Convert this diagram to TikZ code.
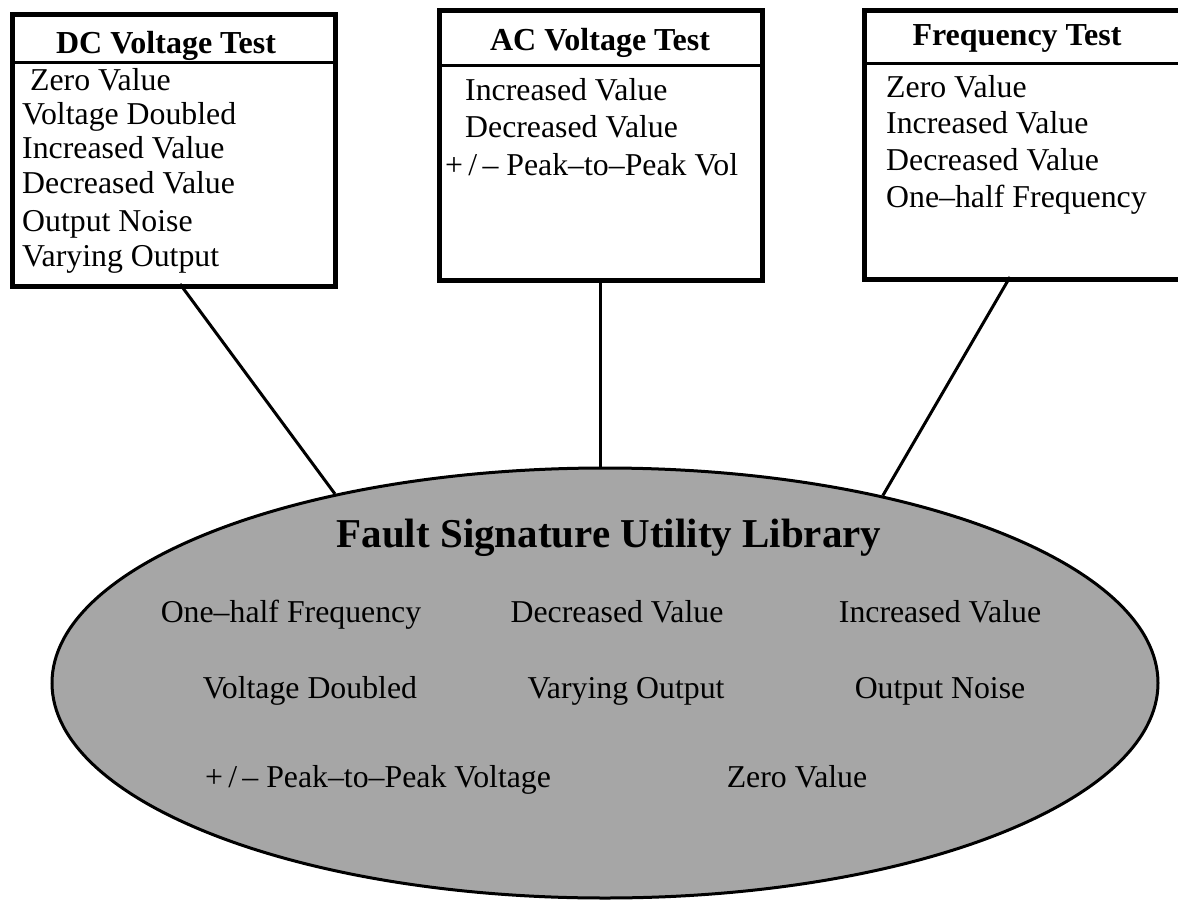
\documentclass[tikz,border=0pt]{standalone}
\usepackage{fontspec}
\setmainfont{Liberation Serif}
\usetikzlibrary{shapes.geometric,calc}
\begin{document}
\begin{tikzpicture}[x=1pt,y=-1pt,
  tbox/.style={draw, line width=4.5pt, rectangle, anchor=north west, inner sep=0pt, fill=white},
  sepline/.style={line width=3pt},
  conn/.style={line width=3pt},
  itemtxt/.style={anchor=base west, inner sep=0pt, font=\fontsize{31.8}{36}\selectfont},
  headtxt/.style={anchor=base, inner sep=0pt, font=\fontsize{32}{36}\selectfont\bfseries},
  elltxt/.style={anchor=base, inner sep=0pt, font=\fontsize{31.8}{36}\selectfont},
  titletxt/.style={anchor=base, inner sep=0pt, font=\fontsize{41}{46}\selectfont\bfseries},
  lib/.style={ellipse, draw, line width=3pt, fill=black!35, minimum width=1106pt, minimum height=430pt, inner sep=0pt}]
\useasboundingbox (0,0) rectangle (1178,902);
\clip (0,0) rectangle (1178,902);
\fill[white] (0,0) rectangle (1178,902);

% boxes
\node[tbox, minimum width=323pt, minimum height=272pt] (dc) at (10,12) {};
\draw[sepline] (dc.west |- 0,62) -- (dc.east |- 0,62);
\node[tbox, minimum width=323pt, minimum height=270pt] (ac) at (437,8) {};
\draw[sepline] (ac.west |- 0,65) -- (ac.east |- 0,65);
\node[tbox, minimum width=330pt, minimum height=269pt] (fq) at (862,8) {};
\draw[sepline] (fq.west |- 0,63) -- (1200,63);

% box texts
\node[headtxt] (dch) at (166,53) {DC Voltage Test};
\node[itemtxt] (dc1) at (30,90) {Zero Value};
\node[itemtxt] (dc2) at (22,124) {Voltage Doubled};
\node[itemtxt] (dc3) at (22,158) {Increased Value};
\node[itemtxt] (dc4) at (22,193) {Decreased Value};
\node[itemtxt] (dc5) at (22,231) {Output Noise};
\node[itemtxt] (dc6) at (22,266) {Varying Output};

\node[headtxt] (ach) at (600,50) {AC Voltage Test};
\node[itemtxt] (ac1) at (465,100) {Increased Value};
\node[itemtxt] (ac2) at (465,137) {Decreased Value};
\node[itemtxt] (ac3) at (445,175) {+\,/\,– Peak–to–Peak Vol};

\node[headtxt] (fqh) at (1017,45) {Frequency Test};
\node[itemtxt] (fq1) at (886,97) {Zero Value};
\node[itemtxt] (fq2) at (886,133) {Increased Value};
\node[itemtxt] (fq3) at (886,170) {Decreased Value};
\node[itemtxt] (fq4) at (886,207) {One–half Frequency};

% library ellipse
\node[lib] (ell) at (605,683) {};
\node[titletxt] (title) at (609,547) {Fault Signature Utility Library};
\node[elltxt] (e1) at (291,622) {One–half Frequency};
\node[elltxt] (e2) at (617,622) {Decreased Value};
\node[elltxt] (e3) at (940,622) {Increased Value};
\node[elltxt] (e4) at (310,698) {Voltage Doubled};
\node[elltxt] (e5) at (626,698) {Varying Output};
\node[elltxt] (e6) at (940,698) {Output Noise};
\node[elltxt] (e7) at (378,787) {+\,/\,– Peak–to–Peak Voltage};
\node[elltxt] (e8) at (797,787) {Zero Value};

% connectors
\coordinate (dcfoot) at (180,284);
\coordinate (acfoot) at (600,278);
\coordinate (fqfoot) at (1010,277);
\draw[conn] (dcfoot) -- (ell.145.5);
\draw[conn] (acfoot) -- (acfoot |- ell.north);
\draw[conn] (fqfoot) -- (ell.34.4);
\end{tikzpicture}
\end{document}
